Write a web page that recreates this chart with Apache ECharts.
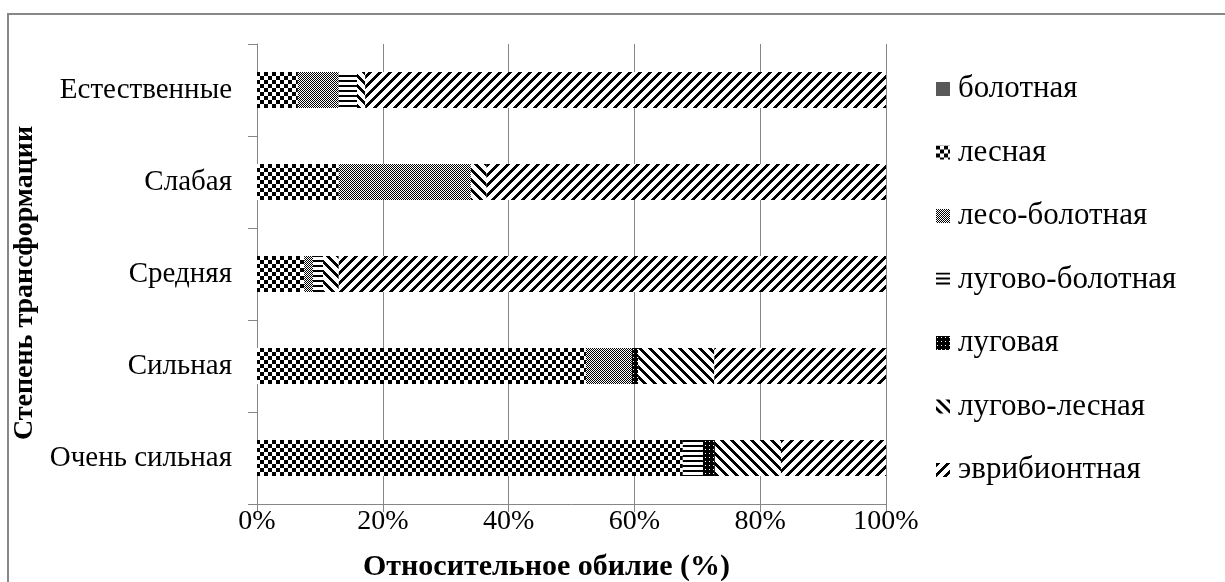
<!DOCTYPE html>
<html>
<head>
<meta charset="utf-8">
<script src="https://cdn.jsdelivr.net/npm/echarts@6/dist/echarts.min.js"></script>
<style>
  html, body { margin: 0; padding: 0; background: #fff; }
  #chart { width: 1225px; height: 582px; }
</style>
</head>
<body>
<div id="chart"></div>
<script>
// Degrees of habitat transformation (top to bottom)
const categories = ['Естественные', 'Слабая', 'Средняя', 'Сильная', 'Очень сильная'];

// Relative abundance of ecological groups, % of each row
const bolotnaya       = [0,    0,    0,    0,    0];
const lesnaya         = [6.5,  13,   7.5,  52.3, 67.7];
const lesoBolotnaya   = [6.5,  21,   1.4,  7.3,  0];
const lugovoBolotnaya = [2.9,  0,    1.6,  0,    3.2];
const lugovaya        = [0,    0,    0,    1.0,  1.9];
const lugovoLesnaya   = [1.3,  2.5,  2.5,  12.1, 10.5];
const evribiontnaya   = [82.8, 63.5, 87,   27.3, 16.7];

const xTicks = [0, 20, 40, 60, 80, 100];

// --- monochrome fill patterns -------------------------------------------
function tile(size, paint) {
  const c = document.createElement('canvas');
  c.width = size; c.height = size;
  const ctx = c.getContext('2d');
  ctx.fillStyle = '#fff';
  ctx.fillRect(0, 0, size, size);
  ctx.fillStyle = '#000';
  for (let y = 0; y < size; y++) {
    for (let x = 0; x < size; x++) {
      if (paint(x, y)) ctx.fillRect(x, y, 1, 1);
    }
  }
  return { image: c, repeat: 'repeat' };
}

const fills = {
  solid:     '#595959',
  checker:   tile(8,  (x, y) => ((Math.floor(x / 4) + Math.floor(y / 4)) % 2) === 0),
  fineCheck: tile(2,  (x, y) => ((x + y) % 2) === 0),
  hLines:    tile(5,  (x, y) => y < 2),
  dotted:    tile(4,  (x, y) => !(x === 1 && y === 1)),
  backDiag:  tile(10, (x, y) => ((x - y + 100) % 10) < 4),
  fwdDiag:   tile(10, (x, y) => ((x + y) % 10) < 4)
};

const groups = [
  ['болотная',        bolotnaya,       fills.solid],
  ['лесная',          lesnaya,         fills.checker],
  ['лесо-болотная',   lesoBolotnaya,   fills.fineCheck],
  ['лугово-болотная', lugovoBolotnaya, fills.hLines],
  ['луговая',         lugovaya,        fills.dotted],
  ['лугово-лесная',   lugovoLesnaya,   fills.backDiag],
  ['эврибионтная',    evribiontnaya,   fills.fwdDiag]
];

const serif = '"Liberation Serif", "DejaVu Serif", serif';
const axisGrey = '#868686';

const chart = echarts.init(document.getElementById('chart'), null, { renderer: 'canvas' });

chart.setOption({
  animation: false,
  backgroundColor: '#fff',
  graphic: [{
    type: 'rect',
    shape: { x: 8, y: 14, width: 1400, height: 800 },
    style: { fill: 'none', stroke: '#878787', lineWidth: 2 },
    silent: true
  }],
  grid: { left: 257, right: 339, top: 44, bottom: 78, outerBoundsMode: 'none', containLabel: false },
  legend: {
    orient: 'vertical',
    left: 931,
    top: 68,
    icon: 'rect',
    itemWidth: 14,
    itemHeight: 14,
    itemGap: 31.5,
    selectedMode: false,
    textStyle: { fontFamily: serif, fontSize: 31, lineHeight: 32, color: '#000', padding: [0, 0, 0, 3] },
    data: groups.map(g => g[0])
  },
  xAxis: {
    type: 'value',
    min: 0,
    max: 100,
    interval: 20,
    name: 'Относительное обилие (%)',
    nameLocation: 'middle',
    nameGap: 48,
    nameTextStyle: { fontFamily: serif, fontSize: 30, fontWeight: 'bold', color: '#000', padding: [0, 50, 0, 0] },
    axisLine: { show: true, lineStyle: { color: axisGrey, width: 1 } },
    axisTick: { show: true, length: 8, lineStyle: { color: axisGrey } },
    axisLabel: {
      fontFamily: serif, fontSize: 28, color: '#000', margin: 4,
      formatter: v => (xTicks.includes(v) ? v + '%' : '')
    },
    splitLine: { show: true, lineStyle: { color: axisGrey, width: 1 } }
  },
  yAxis: {
    type: 'category',
    inverse: true,
    data: categories,
    name: 'Степень трансформации',
    nameLocation: 'middle',
    nameRotate: 90,
    nameGap: 216,
    nameTextStyle: { fontFamily: serif, fontSize: 28, fontWeight: 'bold', color: '#000', padding: [0, 18, 0, 0] },
    axisLine: { show: true, lineStyle: { color: axisGrey, width: 1 } },
    axisTick: { show: true, length: 9, lineStyle: { color: axisGrey } },
    axisLabel: { fontFamily: serif, fontSize: 29, color: '#000', margin: 25 }
  },
  series: groups.map(([name, values, fill]) => ({
    name,
    type: 'bar',
    stack: 'total',
    barWidth: 36,
    data: values,
    itemStyle: { color: fill, borderWidth: 0 },
    emphasis: { disabled: true }
  }))
});
</script>
</body>
</html>
